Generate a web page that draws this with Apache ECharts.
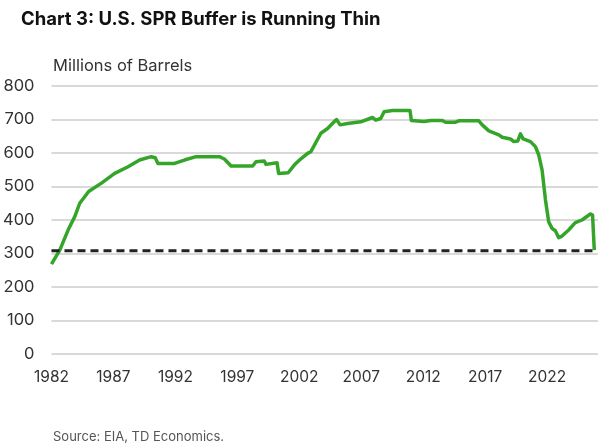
<!DOCTYPE html>
<html>
<head>
<meta charset="utf-8">
<script src="https://cdn.jsdelivr.net/npm/echarts@6/dist/echarts.min.js"></script>
<style>
html,body{margin:0;padding:0;background:#fff;}
#chart{width:600px;height:448px;}
</style>
</head>
<body>
<div id="chart"></div>
<script>
// Dates as decimal years, SPR stocks in millions of barrels
const years = [1982.0,1982.67,1983.34,1983.88,1984.28,1985.0,1986.03,1987.1,1988.18,1989.11,1990.05,1990.37,1990.59,1991.93,1992.73,1993.67,1995.55,1995.95,1996.49,1998.24,1998.5,1999.17,1999.31,2000.2,2000.33,2001.1,2001.59,2002.1,2002.67,2002.93,2003.74,2004.28,2004.81,2005.0,2005.29,2005.89,2006.96,2007.9,2008.17,2008.57,2008.84,2009.51,2010.93,2011.04,2012.06,2012.6,2013.54,2013.8,2014.61,2014.87,2016.48,2016.76,2017.29,2018.1,2018.37,2019.04,2019.3,2019.63,2019.84,2020.06,2020.65,2021.05,2021.32,2021.59,2021.86,2022.12,2022.39,2022.66,2022.93,2023.2,2023.73,2024.27,2024.81,2025.48,2025.66,2025.8];
const stocks = [268,310,370,410,450,485,510,539,559,579,589,586,569,569,579,589,589,582,561,561,574,576,566,571,539,541,564,582,599,604,659,673,693,700,684,688,693,706,698,703,723,727,727,697,694,697,697,692,692,696,696,684,666,654,647,642,634,636,657,642,634,619,594,549,460,395,375,368,347,352,370,392,400,418,415,310];
const bufferLevel = 308;
const bufferYears = [1982.0, 2025.8];
const xTickLabels = [1982,1987,1992,1997,2002,2007,2012,2017,2022];
const yTicks = [0,100,200,300,400,500,600,700,800];

const FONT = 'Inter';
const chart = echarts.init(document.getElementById('chart'), null, {renderer:'canvas'});
chart.setOption({
  animation:false,
  backgroundColor:'#fff',
  title:[
    {text:'Chart 3: U.S. SPR Buffer is Running Thin', left:16, top:5,
     textStyle:{fontFamily:FONT, fontSize:18.5, fontWeight:'bold', color:'#111'}},
    {text:'Millions of Barrels', left:48, top:53,
     textStyle:{fontFamily:FONT, fontSize:16.5, fontWeight:'normal', color:'#333'}},
    {text:'Source: EIA, TD Economics.', left:48, top:426,
     textStyle:{fontFamily:FONT, fontSize:13, fontWeight:'normal', color:'#555'}}
  ],
  grid:{left:50, right:2, top:86, bottom:94, containLabel:false},
  xAxis:{
    type:'value', min:1982, max:2026.1,
    axisLine:{show:false}, axisTick:{show:false},
    splitLine:{show:false},
    axisLabel:{customValues:xTickLabels, formatter:v=>String(Math.round(v)),
      fontFamily:FONT, fontSize:15.5, color:'#333', margin:15}
  },
  yAxis:{
    type:'value', min:yTicks[0], max:yTicks[yTicks.length-1], interval:100,
    axisLine:{show:false}, axisTick:{show:false},
    splitLine:{show:true, lineStyle:{color:'#d9d9d9', width:2}},
    axisLabel:{fontFamily:FONT, fontSize:16.5, color:'#333', margin:17}
  },
  series:[
    {type:'line', name:'SPR', showSymbol:false, symbol:'none',
     data:years.map((y,i)=>[y,stocks[i]]),
     lineStyle:{color:'#35a52a', width:3.5, join:'round'}},
    {type:'line', name:'Buffer', showSymbol:false, symbol:'none',
     data:bufferYears.map(y=>[y,bufferLevel]),
     lineStyle:{color:'#222', width:3, type:[8,5]}}
  ]
});
</script>
</body>
</html>
